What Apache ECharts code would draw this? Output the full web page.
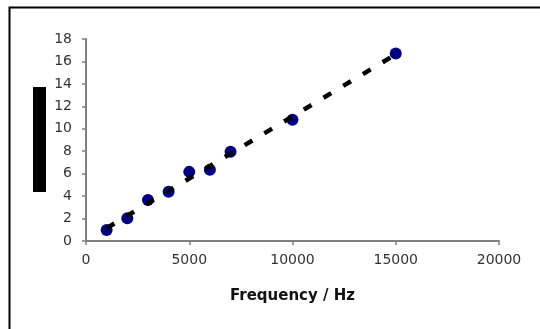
<!DOCTYPE html>
<html>
<head>
<meta charset="utf-8">
<script src="https://cdn.jsdelivr.net/npm/echarts@6/dist/echarts.min.js"></script>
<style>html,body{margin:0;padding:0;background:#fff}#c{width:540px;height:329px}</style>
</head>
<body>
<div id="c"></div>
<script>
var frequency = [1000, 2000, 3000, 4000, 5000, 6000, 7000, 10000, 15000];
var values = [0.98, 2.03, 3.66, 4.38, 6.16, 6.34, 7.95, 10.8, 16.7];
var xTicks = [0, 5000, 10000, 15000, 20000];
var yTicks = [0, 2, 4, 6, 8, 10, 12, 14, 16, 18];
var xTitle = 'Frequency / Hz';

// linear least-squares trendline (as in the original spreadsheet chart)
var n = frequency.length, sx = 0, sy = 0, sxx = 0, sxy = 0;
for (var i = 0; i < n; i++) { sx += frequency[i]; sy += values[i]; sxx += frequency[i]*frequency[i]; sxy += frequency[i]*values[i]; }
var slope = (n*sxy - sx*sy) / (n*sxx - sx*sx);
var intercept = (sy - slope*sx) / n;
var xMin = Math.min.apply(null, frequency), xMax = Math.max.apply(null, frequency);
var trend = [[xMin, intercept + slope*xMin], [xMax, intercept + slope*xMax]];

var pts = frequency.map(function (f, i) { return [f, values[i]]; });
var font = 'DejaVu Sans';
var chart = echarts.init(document.getElementById('c'), null, {renderer: 'canvas'});
chart.setOption({
  animation: false,
  backgroundColor: '#fff',
  grid: {left: 86, top: 39, right: 41, bottom: 88, containLabel: false, outerBoundsMode: 'none'},
  xAxis: {
    type: 'value', min: xTicks[0], max: xTicks[xTicks.length-1], interval: 5000,
    name: xTitle, nameLocation: 'middle', nameGap: 48,
    nameTextStyle: {fontFamily: font, fontSize: 15, fontWeight: 'bold', color: '#111'},
    axisLine: {show: true, lineStyle: {color: '#808080', width: 2}},
    axisTick: {show: true, length: 4, lineStyle: {color: '#808080', width: 1.5}},
    axisLabel: {fontFamily: font, fontSize: 14, color: '#333', margin: 12, formatter: function (v) { return String(v); }},
    splitLine: {show: false}
  },
  yAxis: {
    type: 'value', min: yTicks[0], max: yTicks[yTicks.length-1], interval: 2,
    axisLine: {show: true, lineStyle: {color: '#808080', width: 2}},
    axisTick: {show: true, length: 4, lineStyle: {color: '#808080', width: 1.5}},
    axisLabel: {fontFamily: font, fontSize: 14, color: '#333', margin: 14},
    splitLine: {show: false}
  },
  series: [
    {type: 'scatter', data: pts, symbol: 'circle', symbolSize: 12, itemStyle: {color: '#000080', opacity: 1}, z: 2},
    {type: 'line', data: trend, showSymbol: false, symbol: 'none', z: 3,
     lineStyle: {color: '#000', width: 4.5, type: [9, 14], cap: 'butt'}}
  ],
  graphic: [
    {type: 'rect', left: 7, top: 5, shape: {x: 0, y: 0, width: 600, height: 400}, style: {fill: null, stroke: '#000', lineWidth: 2}, silent: true},
    {type: 'rect', left: 33, top: 87, shape: {x: 0, y: 0, width: 13, height: 105}, style: {fill: '#000'}, silent: true}
  ]
});
</script>
</body>
</html>
